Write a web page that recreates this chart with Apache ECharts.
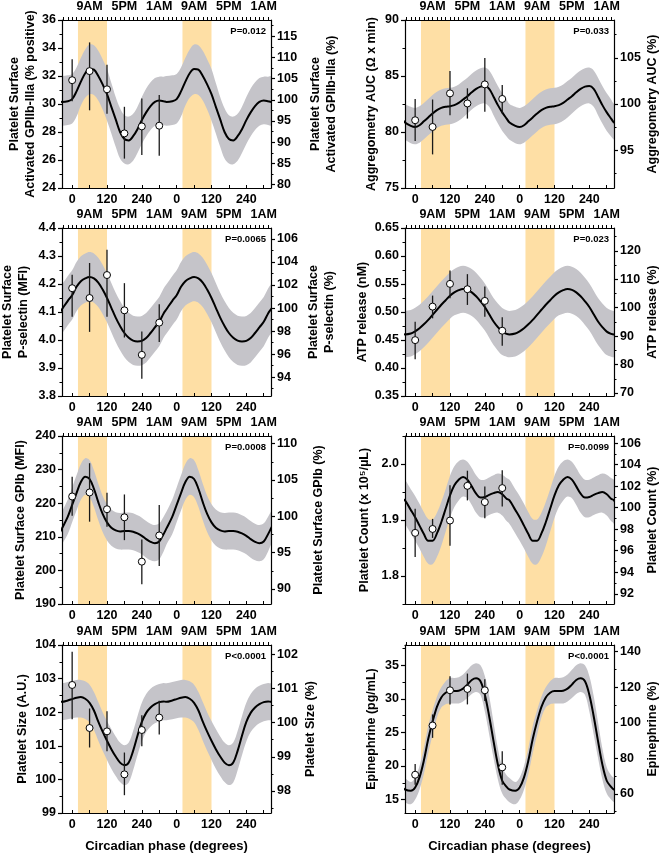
<!DOCTYPE html>
<html><head><meta charset="utf-8">
<script src="https://cdn.jsdelivr.net/npm/echarts@6/dist/echarts.min.js"></script>
<style>html,body{margin:0;padding:0;background:#fff}#c{width:662px;height:855px}</style>
</head><body><div id="c"></div>
<script>
// ---------- shared axes / categories ----------
const phaseX = [0, 60, 120, 180, 240, 300];
const curveX = [-35,-15,0,15,30,45,60,75,90,105,120,135,150,165,180,195,210,225,240,255,270,285,300,315];
const bottomTicks = [0, 120, 240, 360, 480, 600];
const bottomTickLabels = ['0', '120', '240', '0', '120', '240'];
const topTicks = [60, 180, 300, 420, 540, 660];
const topTickLabels = ['9AM', '5PM', '1AM', '9AM', '5PM', '1AM'];
const lightPeriods = [[20, 120], [380, 480]];

// ---------- Panel 1: Activated GPIIb-IIIa ----------
const p1Mean = [31.7, 32.35, 31.05, 27.9, 28.4, 28.45];
const p1Hi = [33.2, 34.4, 32.8, 29.8, 30.4, 30.65];
const p1Lo = [30.2, 29.55, 29.3, 26.1, 26.35, 26.3];
const p1Curve = [30.15,30.2,30.35,30.9,31.6,32.2,32.5,32.45,32.0,31.4,30.7,29.8,28.9,28.0,27.5,27.4,27.7,28.2,28.85,29.4,29.85,30.15,30.25,30.2];
const p1Upper = [32.0,32.05,32.15,32.6,33.3,33.9,34.25,34.2,33.8,33.2,32.5,31.5,30.5,29.7,29.2,29.1,29.3,29.8,30.5,31.1,31.55,31.85,31.95,31.95];
const p1Lower = [28.45,28.5,28.6,29.1,29.9,30.45,30.7,30.65,30.25,29.6,28.8,27.9,26.95,26.1,25.75,25.7,25.95,26.5,27.15,27.7,28.15,28.45,28.55,28.5];
const p1LeftTicks = [24, 26, 28, 30, 32, 34, 36];
const p1RightTicks = [80, 85, 90, 95, 100, 105, 110, 115];
const p1Ref = 30.3;

// ---------- Panel 2: Aggregometry AUC ----------
const p2Mean = [81.05, 80.45, 83.45, 82.55, 84.25, 82.95];
const p2Hi = [82.95, 82.9, 85.45, 83.9, 86.6, 84.2];
const p2Lo = [79.2, 78.0, 81.5, 81.2, 81.8, 81.65];
const p2Curve = [80.85,80.55,80.45,80.6,80.95,81.3,81.65,81.95,82.15,82.25,82.3,82.4,82.6,82.9,83.2,83.55,83.85,84.05,84.1,83.85,83.15,82.4,81.75,81.2];
const p2Upper = [82.5,82.25,82.15,82.3,82.6,82.95,83.3,83.6,83.8,83.9,83.95,84.05,84.25,84.55,84.85,85.2,85.5,85.7,85.75,85.5,84.85,84.1,83.45,82.9];
const p2Lower = [79.3,79.0,78.9,79.05,79.35,79.7,80.05,80.35,80.55,80.65,80.7,80.8,81.0,81.3,81.65,82.0,82.3,82.5,82.55,82.25,81.5,80.75,80.1,79.6];
const p2LeftTicks = [75, 80, 85, 90];
const p2RightTicks = [95, 100, 105];
const p2Ref = 82.5;

// ---------- Panel 3: P-selectin ----------
const p3Mean = [4.185, 4.15, 4.232, 4.106, 3.947, 4.062];
const p3Hi = [4.233, 4.275, 4.322, 4.203, 4.03, 4.128];
const p3Lo = [4.083, 4.029, 4.083, 4.009, 3.862, 3.993];
const p3Curve = [4.11,4.14,4.16,4.19,4.21,4.22,4.225,4.22,4.205,4.18,4.15,4.115,4.08,4.05,4.025,4.008,3.998,3.995,3.997,4.007,4.025,4.045,4.065,4.095];
const p3Upper = [4.199,4.229,4.249,4.279,4.299,4.309,4.314,4.309,4.294,4.269,4.239,4.204,4.169,4.139,4.114,4.097,4.087,4.084,4.086,4.096,4.114,4.134,4.154,4.184];
const p3Lower = [4.023,4.053,4.073,4.103,4.123,4.133,4.138,4.133,4.118,4.093,4.063,4.028,3.993,3.963,3.938,3.921,3.911,3.908,3.91,3.92,3.938,3.958,3.978,4.008];
const p3LeftTicks = [3.8, 3.9, 4.0, 4.1, 4.2, 4.3, 4.4];
const p3RightTicks = [94, 96, 98, 100, 102, 104, 106];
const p3Ref = 4.114;

// ---------- Panel 4: ATP release ----------
const p4Mean = [0.4498, 0.5096, 0.5502, 0.5407, 0.5198, 0.4666];
const p4Hi = [0.4827, 0.5293, 0.574, 0.5676, 0.5455, 0.4905];
const p4Lo = [0.4158, 0.4887, 0.5245, 0.5126, 0.4917, 0.4397];
const p4Curve = [0.460,0.4615,0.4655,0.471,0.478,0.486,0.495,0.504,0.513,0.521,0.529,0.535,0.539,0.541,0.5395,0.535,0.528,0.519,0.509,0.496,0.483,0.473,0.465,0.461];
const p4Upper = [0.502,0.5035,0.5075,0.513,0.52,0.528,0.537,0.546,0.555,0.563,0.571,0.577,0.581,0.5825,0.581,0.577,0.57,0.561,0.551,0.538,0.525,0.515,0.507,0.503];
const p4Lower = [0.419,0.4205,0.4245,0.43,0.437,0.445,0.454,0.463,0.472,0.48,0.488,0.494,0.497,0.4985,0.497,0.493,0.486,0.477,0.467,0.454,0.441,0.431,0.423,0.42];
const p4LeftTicks = [0.35, 0.40, 0.45, 0.50, 0.55, 0.60, 0.65];
const p4RightTicks = [70, 80, 90, 100, 110, 120];
const p4Ref = 0.5077;

// ---------- Panel 5: GPIb ----------
const p5Mean = [222.0, 223.2, 218.2, 215.8, 202.6, 210.4];
const p5Hi = [227.9, 231.9, 223.1, 222.6, 209.2, 219.5];
const p5Lo = [216.3, 214.5, 213.0, 209.0, 195.9, 201.3];
const p5Curve = [212.5,216.0,219.5,223.0,226.3,227.9,227.2,224.3,220.3,216.8,214.3,212.7,211.9,211.6,211.7,211.7,211.5,211.0,210.3,209.3,208.5,208.1,208.6,210.8];
const p5Upper = [217.5,221.1,224.7,228.3,231.7,233.4,232.8,229.8,225.8,222.2,219.7,218.1,217.3,217.1,217.2,217.2,217.0,216.4,215.7,214.7,213.9,213.5,214.0,216.0];
const p5Lower = [207.7,210.8,214.3,217.8,221.0,222.5,221.8,218.9,214.9,211.4,208.9,207.3,206.5,206.2,206.2,206.2,206.0,205.5,204.8,203.8,203.0,202.7,203.3,205.6];
const p5LeftTicks = [190, 200, 210, 220, 230, 240];
const p5RightTicks = [90, 95, 100, 105, 110];
const p5Ref = 216.1;

// ---------- Panel 6: Platelet count ----------
const p6Mean = [1.877, 1.884, 1.899, 1.961, 1.932, 1.957];
const p6Hi = [1.920, 1.902, 1.962, 1.988, 1.960, 1.989];
const p6Lo = [1.834, 1.868, 1.854, 1.935, 1.903, 1.924];
const p6Curve = [1.935,1.918,1.905,1.89,1.875,1.863,1.863,1.876,1.896,1.92,1.944,1.962,1.972,1.977,1.972,1.96,1.947,1.94,1.941,1.945,1.948,1.95,1.946,1.938];
const p6Upper = [1.972,1.955,1.943,1.929,1.914,1.902,1.901,1.913,1.932,1.955,1.979,1.996,2.005,2.008,2.004,1.993,1.98,1.972,1.972,1.976,1.98,1.983,1.981,1.975];
const p6Lower = [1.893,1.876,1.863,1.849,1.834,1.822,1.821,1.834,1.854,1.879,1.904,1.923,1.935,1.942,1.939,1.927,1.913,1.905,1.905,1.909,1.912,1.913,1.908,1.898];
const p6LeftTicks = [1.8, 1.9, 2.0];
const p6RightTicks = [92, 94, 96, 98, 100, 102, 104, 106];
const p6Ref = 1.922;

// ---------- Panel 7: Platelet size ----------
const p7Mean = [102.81, 101.53, 101.43, 100.15, 101.47, 101.84];
const p7Hi = [103.8, 102.11, 102.03, 100.8, 101.91, 102.34];
const p7Lo = [101.79, 100.95, 100.84, 99.53, 100.99, 101.34];
const p7Curve = [102.31,102.35,102.39,102.43,102.45,102.4,102.28,102.05,101.72,101.42,101.15,100.9,100.68,100.5,100.42,100.5,100.85,101.3,101.71,101.98,102.14,102.24,102.3,102.32];
const p7Upper = [102.86,102.9,102.93,102.96,102.96,102.92,102.82,102.6,102.3,102.0,101.74,101.5,101.28,101.1,101.02,101.1,101.44,101.88,102.28,102.54,102.7,102.79,102.84,102.87];
const p7Lower = [101.76,101.79,101.82,101.84,101.84,101.8,101.7,101.47,101.15,100.85,100.58,100.32,100.1,99.92,99.83,99.91,100.27,100.72,101.13,101.41,101.57,101.67,101.73,101.76];
const p7LeftTicks = [99, 100, 101, 102, 103, 104];
const p7RightTicks = [98, 99, 100, 101, 102];
const p7Ref = 101.69;

// ---------- Panel 8: Epinephrine ----------
const p8Mean = [18.69, 26.02, 31.26, 31.46, 31.26, 19.79];
const p8Hi = [20.29, 27.67, 33.35, 33.75, 32.9, 22.18];
const p8Lo = [17.19, 24.18, 29.16, 29.16, 29.66, 17.19];
const p8Curve = [16.5,16.3,16.8,18.3,20.8,24.0,26.6,28.8,30.2,30.9,31.15,31.15,31.2,31.5,32.1,32.8,33.05,32.6,30.6,27.4,23.7,20.2,17.8,16.9];
const p8Upper = [18.2,17.6,18.3,20.0,22.7,26.0,28.3,30.3,31.7,32.6,33.1,33.1,33.2,33.6,34.3,35.0,35.3,35.0,33.4,30.4,26.5,22.6,19.8,18.6];
const p8Lower = [14.6,14.3,15.0,16.5,18.8,21.9,24.6,27.2,28.7,29.2,29.3,29.3,29.3,29.6,30.1,30.7,31.0,30.6,28.1,24.7,21.2,18.0,15.9,15.0];
const p8LeftTicks = [15, 20, 25, 30, 35];
const p8RightTicks = [60, 80, 100, 120, 140];
const p8Ref = 26.44;

// ---------- panel descriptors (built from the arrays above) ----------
const panels = [
  {mean:p1Mean, hi:p1Hi, lo:p1Lo, curve:p1Curve, up:p1Upper, low:p1Lower, lt:p1LeftTicks, rt:p1RightTicks, ref:p1Ref,
   min:24, max:36, lminor:1, rminor:2.5, dec:0, p:'P=0.012',
   lname:'Platelet Surface\nActivated GPIIb-IIIa (% positive)', rname:'Platelet Surface\nActivated GPIIb-IIIa (%)', lgap:21, rgap:37},
  {mean:p2Mean, hi:p2Hi, lo:p2Lo, curve:p2Curve, up:p2Upper, low:p2Lower, lt:p2LeftTicks, rt:p2RightTicks, ref:p2Ref,
   min:75, max:90, lminor:2.5, rminor:2.5, dec:0, p:'P=0.033',
   lname:'Aggregometry AUC (\u03A9 x min)', rname:'Aggregometry AUC (%)', lgap:25, rgap:31},
  {mean:p3Mean, hi:p3Hi, lo:p3Lo, curve:p3Curve, up:p3Upper, low:p3Lower, lt:p3LeftTicks, rt:p3RightTicks, ref:p3Ref,
   min:3.8, max:4.4, lminor:0.05, rminor:1, dec:1, p:'P=0.0065',
   lname:'Platelet Surface\nP-selectin (MFI)', rname:'Platelet Surface\nP-selectin (%)', lgap:30, rgap:35},
  {mean:p4Mean, hi:p4Hi, lo:p4Lo, curve:p4Curve, up:p4Upper, low:p4Lower, lt:p4LeftTicks, rt:p4RightTicks, ref:p4Ref,
   min:0.35, max:0.65, lminor:0.025, rminor:5, dec:2, p:'P=0.023',
   lname:'ATP release (nM)', rname:'ATP release (%)', lgap:32, rgap:31},
  {mean:p5Mean, hi:p5Hi, lo:p5Lo, curve:p5Curve, up:p5Upper, low:p5Lower, lt:p5LeftTicks, rt:p5RightTicks, ref:p5Ref,
   min:190, max:240, lminor:5, rminor:2.5, dec:0, p:'P=0.0008',
   lname:'Platelet Surface GPIb (MFI)', rname:'Platelet Surface GPIb (%)', lgap:33, rgap:40},
  {mean:p6Mean, hi:p6Hi, lo:p6Lo, curve:p6Curve, up:p6Upper, low:p6Lower, lt:p6LeftTicks, rt:p6RightTicks, ref:p6Ref,
   min:1.75, max:2.05, lminor:0.05, rminor:1, dec:1, p:'P=0.0099',
   lname:'Platelet Count (x 10\u2075/\u00B5L)', rname:'Platelet Count (%)', lgap:32, rgap:30},
  {mean:p7Mean, hi:p7Hi, lo:p7Lo, curve:p7Curve, up:p7Upper, low:p7Lower, lt:p7LeftTicks, rt:p7RightTicks, ref:p7Ref,
   min:99, max:104, lminor:0.5, rminor:0.5, dec:0, p:'P<0.0001',
   lname:'Platelet Size (A.U.)', rname:'Platelet Size (%)', lgap:31, rgap:32},
  {mean:p8Mean, hi:p8Hi, lo:p8Lo, curve:p8Curve, up:p8Upper, low:p8Lower, lt:p8LeftTicks, rt:p8RightTicks, ref:p8Ref,
   min:13, max:38, lminor:2.5, rminor:10, dec:0, p:'P<0.0001',
   lname:'Epinephrine (pg/mL)', rname:'Epinephrine (%)', lgap:25, rgap:31}
];

// ---------- layout ----------
const FONT = "'Liberation Sans', Arial, Helvetica, sans-serif";
const colLeft = [62, 405];
const rowTop = [20, 228, 436, 645];
const gW = 209, gH = 168;
const XMIN = -35, XMAX = 685;
const ORANGE = '#fedfa5';
const BAND = '#c5c4c9';

// one measured cycle repeated for the two plotted days (plus one wrap point each side)
function tile(arr) {
  const n = curveX.length, out = [];
  out.push([curveX[n - 1] - 360, arr[n - 1]]);
  for (let k = 0; k < 2; k++)
    for (let j = 0; j < n; j++) out.push([curveX[j] + 360 * k, arr[j]]);
  out.push([curveX[0] + 720, arr[0]]);
  out.push([curveX[1] + 720, arr[1]]);
  return out;
}
function minorList(min, max, step, majors) {
  const out = [];
  const n0 = Math.ceil(min / step - 1e-9), n1 = Math.floor(max / step + 1e-9);
  for (let n = n0; n <= n1; n++) {
    const v = +(n * step).toFixed(6);
    if (!majors.some(m => Math.abs(m - v) < 1e-9)) out.push(v);
  }
  return out;
}
const hourTicks = [];
for (let d = -30; d <= 675; d += 15) hourTicks.push(d);
const bottomInnerTicks = [];
for (let d = 0; d <= 660; d += 60) bottomInnerTicks.push(d);

const lblStyle = {fontFamily: FONT, fontWeight: 'bold', fontSize: 12.5, color: '#000'};
const axisLine = {show: true, onZero: false, lineStyle: {color: '#000', width: 1.2}};
const noLine = {show: false, onZero: false};

const grids = [], xAxes = [], yAxes = [], series = [], graphics = [];

panels.forEach((P, i) => {
  const col = i % 2, row = Math.floor(i / 2);
  const left = colLeft[col], top = rowTop[row];
  grids.push({left: left, top: top, width: gW, height: gH, containLabel: false, outerBoundsMode: 'none'});
  const isBottom = row === 3;
  xAxes.push({
    type: 'value', gridIndex: i, position: 'bottom', min: XMIN, max: XMAX, z: 10,
    axisLine: axisLine, splitLine: {show: false},
    axisTick: {show: true, inside: true, length: 3, customValues: bottomInnerTicks, lineStyle: {color: '#000', width: 1}},
    axisLabel: {customValues: bottomTicks, margin: 5, ...lblStyle,
      formatter: v => bottomTickLabels[bottomTicks.indexOf(v)]},
    name: isBottom ? 'Circadian phase (degrees)' : '', nameLocation: 'middle', nameGap: 27,
    nameTextStyle: {fontFamily: FONT, fontWeight: 'bold', fontSize: 13, color: '#000'}
  });
  xAxes.push({
    type: 'value', gridIndex: i, position: 'top', min: XMIN, max: XMAX, z: 10,
    axisLine: axisLine, splitLine: {show: false},
    axisTick: {show: true, inside: false, length: 3, customValues: hourTicks, lineStyle: {color: '#000', width: 1}},
    axisLabel: {customValues: topTicks, margin: 7, ...lblStyle,
      formatter: v => topTickLabels[topTicks.indexOf(v)]}
  });
  const rmin = P.min / P.ref * 100, rmax = P.max / P.ref * 100;
  yAxes.push({
    type: 'value', gridIndex: i, position: 'left', min: P.min, max: P.max, z: 10,
    axisLine: axisLine, splitLine: {show: false},
    axisTick: {show: true, length: 4, customValues: P.lt, lineStyle: {color: '#000', width: 1.2}},
    axisLabel: {customValues: P.lt, margin: 6, ...lblStyle, formatter: v => v.toFixed(P.dec)},
    name: P.lname, nameLocation: 'middle', nameRotate: 90, nameGap: P.lgap,
    nameTextStyle: {fontFamily: FONT, fontWeight: 'bold', fontSize: 12.5, color: '#000', lineHeight: 16}
  });
  yAxes.push({
    type: 'value', gridIndex: i, position: 'right', min: rmin, max: rmax, z: 10,
    axisLine: axisLine, splitLine: {show: false},
    axisTick: {show: true, length: 4, customValues: P.rt, lineStyle: {color: '#000', width: 1.2}},
    axisLabel: {customValues: P.rt, margin: 6, ...lblStyle, formatter: v => String(v)},
    name: P.rname, nameLocation: 'middle', nameRotate: 90, nameGap: P.rgap,
    nameTextStyle: {fontFamily: FONT, fontWeight: 'bold', fontSize: 12.5, color: '#000', lineHeight: 16}
  });
  yAxes.push({
    type: 'value', gridIndex: i, position: 'left', min: P.min, max: P.max,
    axisLine: noLine, splitLine: {show: false}, axisLabel: {show: false},
    axisTick: {show: true, length: 2.5, customValues: minorList(P.min, P.max, P.lminor, P.lt), lineStyle: {color: '#000', width: 1}}
  });
  yAxes.push({
    type: 'value', gridIndex: i, position: 'right', min: rmin, max: rmax,
    axisLine: noLine, splitLine: {show: false}, axisLabel: {show: false},
    axisTick: {show: true, length: 2.5, customValues: minorList(rmin, rmax, P.rminor, P.rt), lineStyle: {color: '#000', width: 1}}
  });
  const xi = 2 * i, yi = 4 * i;

  // light-period shading (orange)
  series.push({
    type: 'custom', xAxisIndex: xi, yAxisIndex: yi, z: 1, silent: true, clip: true,
    data: lightPeriods.map(r => [r[0], r[1]]),
    encode: {x: [0, 1]},
    renderItem: (params, api) => {
      const cs = params.coordSys;
      const a = api.coord([api.value(0), P.min]);
      const b = api.coord([api.value(1), P.min]);
      return {type: 'rect', shape: {x: a[0], y: cs.y, width: b[0] - a[0], height: cs.height},
              style: {fill: ORANGE}};
    }
  });
  // confidence band (gray)
  const upT = tile(P.up), lowT = tile(P.low);
  series.push({
    type: 'custom', xAxisIndex: xi, yAxisIndex: yi, z: 2, silent: true, clip: true,
    data: [[XMIN, P.min]],
    encode: {x: 0, y: 1},
    renderItem: (params, api) => {
      const pts = upT.map(p => api.coord(p));
      for (let k = lowT.length - 1; k >= 0; k--) pts.push(api.coord(lowT[k]));
      return {type: 'polygon', shape: {points: pts, smooth: 0.35}, style: {fill: BAND}};
    }
  });
  series.push({
    type: 'line', xAxisIndex: xi, yAxisIndex: yi, data: tile(P.curve), smooth: 0.35, clip: true,
    symbol: 'none', lineStyle: {color: '#000', width: 2}, z: 3, silent: true
  });
  series.push({
    type: 'custom', xAxisIndex: xi, yAxisIndex: yi, z: 4, silent: true,
    data: phaseX.map((x, j) => [x, P.lo[j], P.hi[j]]),
    encode: {x: 0, y: [1, 2]},
    renderItem: (params, api) => {
      const x = api.value(0);
      const a = api.coord([x, api.value(1)]);
      const b = api.coord([x, api.value(2)]);
      return {type: 'line', shape: {x1: a[0], y1: a[1], x2: b[0], y2: b[1]},
              style: {stroke: '#1a1a1a', lineWidth: 1.3}};
    }
  });
  series.push({
    type: 'scatter', xAxisIndex: xi, yAxisIndex: yi, z: 5, silent: true,
    data: phaseX.map((x, j) => [x, P.mean[j]]),
    symbol: 'circle', symbolSize: 7,
    itemStyle: {color: '#fff', borderColor: '#000', borderWidth: 1, opacity: 1}
  });
  graphics.push({
    type: 'text', x: left + gW - 5, y: top + 11, z: 100,
    style: {text: P.p, fill: '#000', font: 'bold 9.5px ' + FONT, textAlign: 'right', textVerticalAlign: 'middle'}
  });
});

const chart = echarts.init(document.getElementById('c'), null, {renderer: 'canvas'});
chart.setOption({
  animation: false,
  backgroundColor: '#fff',
  grid: grids, xAxis: xAxes, yAxis: yAxes, series: series,
  graphic: graphics
});
</script>
</body></html>
